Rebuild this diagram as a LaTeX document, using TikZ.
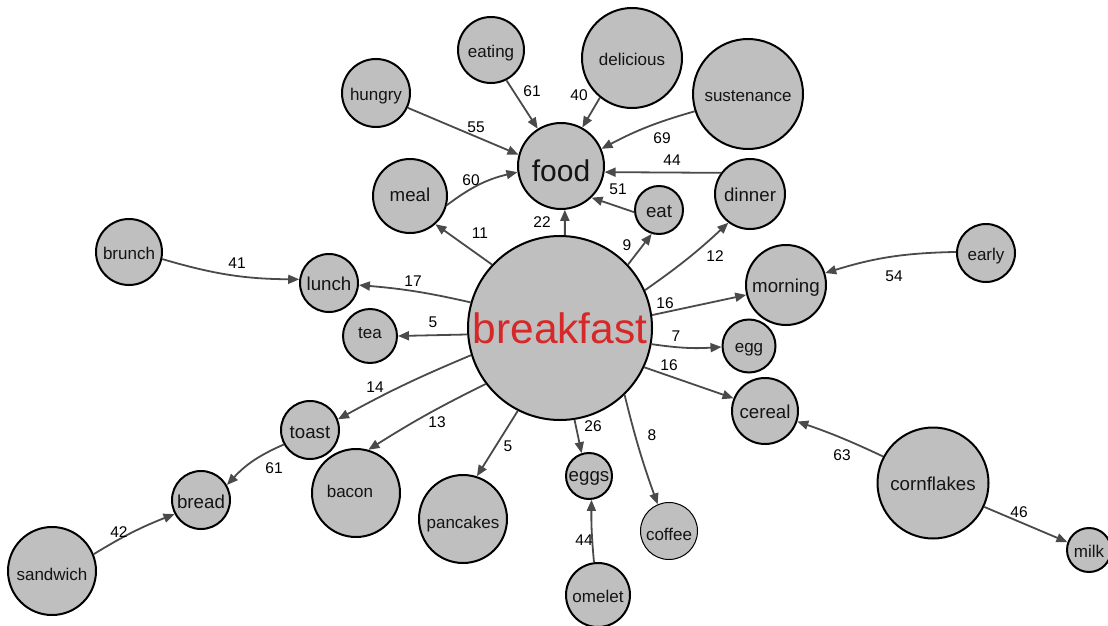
\documentclass[tikz,border=0pt]{standalone}
\usepackage{fontspec}
\setmainfont{Liberation Sans}
\usetikzlibrary{arrows.meta}
\definecolor{nodefill}{RGB}{191,191,191}
\definecolor{edgec}{RGB}{74,74,74}
\definecolor{txt}{RGB}{20,20,20}
\definecolor{hub}{RGB}{214,40,40}
\newcommand{\fs}[1]{\fontsize{#1}{#1}\selectfont}
\begin{document}
\begin{tikzpicture}[x=1pt,y=1pt,
  nd/.style={circle, draw=black, line width=2pt, fill=nodefill, inner sep=0pt, text=txt,
    font=\fs{17}, text height=15pt, text depth=0pt},
  ndb/.style={nd, font=\fs{18.7}, text height=15.5pt},
  lk/.style={draw=edgec, line width=1.8pt, -{Triangle[length=11pt,width=9pt]}},
  lbl/.style={font=\fs{15.5}, text=black, inner sep=0pt}]
\useasboundingbox (0,0) rectangle (1108,-626);

% hub and second hub
\node[nd, minimum size=184pt, font=\fs{42.5}, text=hub, text height=30pt] (breakfast) at (560,-328) {breakfast};
\node[nd, minimum size=86pt, font=\fs{30}, text height=31pt] (food) at (561,-166) {food};

% words around food
\node[nd, minimum size=66pt]  (eating)     at (491,-50)  {eating};
\node[nd, minimum size=100pt] (delicious)  at (632,-58)  {delicious};
\node[nd, minimum size=110pt] (sustenance) at (748,-94)  {sustenance};
\node[nd, minimum size=68pt]  (hungry)     at (376,-93)  {hungry};
\node[ndb, minimum size=74pt, text height=11pt] (meal) at (410,-196) {meal};
\node[ndb, minimum size=48pt, text height=14pt] (eat)  at (659,-210) {eat};
\node[ndb, minimum size=70pt] (dinner)     at (750,-194) {dinner};

% words around breakfast
\node[nd, minimum size=66pt]  (brunch)     at (129,-252) {brunch};
\node[ndb, minimum size=58pt, text height=14pt] (lunch) at (329,-283) {lunch};
\node[nd, minimum size=54pt, text height=5pt] (tea) at (370,-336) {tea};
\node[ndb, minimum size=80pt] (morning)    at (786,-285) {morning};
\node[nd, minimum size=58pt]  (early)      at (986,-253) {early};
\node[nd, minimum size=53pt, text height=12.5pt] (egg) at (749,-346) {egg};
\node[ndb, minimum size=66pt] (cereal)     at (765,-411) {cereal};
\node[ndb, minimum size=58pt, text height=17pt] (toast) at (310,-430) {toast};
\node[ndb, minimum size=58pt, text height=17pt] (bread) at (201,-500) {bread};
\node[nd, minimum size=88pt, text height=8pt] (bacon) at (356,-493) {\kern-12pt bacon};
\node[nd, minimum size=88pt, text height=18pt] (pancakes) at (463,-519) {pancakes};
\node[ndb, minimum size=46pt, text height=11pt] (eggs) at (589,-476) {eggs};
\node[nd, minimum size=57pt, line width=1pt, text height=18pt] (coffee) at (669,-531) {coffee};
\node[nd, minimum size=64pt]  (omelet)     at (598,-595) {omelet};
\node[ndb, minimum size=111pt] (cornflakes) at (933,-483) {cornflakes};
\node[nd, minimum size=44pt]  (milk)       at (1089,-550) {milk};
\node[nd, minimum size=88pt, text height=18pt] (sandwich) at (52,-571) {sandwich};

% links into food
\draw[lk] (hungry.-25) -- (food.165);
\draw[lk] (eating.-63) -- (food.122);
\draw[lk] (delicious.-129) -- (food.61);
\draw[lk] (sustenance.198) to[bend right=6] (food.23);
\draw[lk] (dinner.144) -- (food.-8);
\draw[lk] (meal.-14) to[bend left=12] (food.188);
\draw[lk] (eat.185) -- (food.-46);
\draw[lk] (breakfast.87) -- (food.-85);

% links out of breakfast
\draw[lk] (breakfast.137) -- (meal.-48);
\draw[lk] (breakfast.43) -- (eat.-107);
\draw[lk] (breakfast.24) to[bend right=4] (dinner.-127);
\draw[lk] (breakfast.164) to[bend right=4] (lunch.-4);
\draw[lk] (breakfast.184) -- (tea.0);
\draw[lk] (breakfast.8) -- (morning.194);
\draw[lk] (breakfast.-10) to[bend right=6] (egg.182);
\draw[lk] (breakfast.-25) -- (cereal.158);
\draw[lk] (breakfast.197) to[bend right=3] (toast.21);
\draw[lk] (breakfast.217) to[bend right=3] (bacon.74);
\draw[lk] (breakfast.243) -- (pancakes.72);
\draw[lk] (breakfast.-81) -- (eggs.108);
\draw[lk] (breakfast.-46) to[bend right=3] (coffee.113);

% other links
\draw[lk] (brunch.-12) to[bend right=8] (lunch.173);
\draw[lk] (early.178) to[bend right=8] (morning.17);
\draw[lk] (cornflakes.152) to[bend right=3] (cereal.-18);
\draw[lk] (cornflakes.-25) -- (milk.160);
\draw[lk] (omelet.97) to[bend left=3] (eggs.-84);
\draw[lk] (toast.209) to[bend right=12] (bread.30);
\draw[lk] (sandwich.22) to[bend left=5] (bread.208);

% link weights
\node[lbl] (w55) at (476,-127) {55};
\node[lbl] (w61a) at (532,-91) {61};
\node[lbl] (w40) at (579,-95) {40};
\node[lbl] (w69) at (662,-138) {69};
\node[lbl] (w44a) at (672,-160) {44};
\node[lbl] (w60) at (471,-180) {60};
\node[lbl] (w51) at (618,-189) {51};
\node[lbl] (w22) at (542,-222) {22};
\node[lbl] (w11) at (480,-233) {11};
\node[lbl] (w9) at (627,-245) {9};
\node[lbl] (w12) at (715,-256) {12};
\node[lbl] (w17) at (413,-281) {17};
\node[lbl] (w41) at (237,-263) {41};
\node[lbl] (w5a) at (433,-322) {5};
\node[lbl] (w16a) at (665,-303) {16};
\node[lbl] (w54) at (894,-276) {54};
\node[lbl] (w7) at (676,-336) {7};
\node[lbl] (w16b) at (669,-365) {16};
\node[lbl] (w63) at (842,-455) {63};
\node[lbl] (w46) at (1019,-512) {46};
\node[lbl] (w14) at (375,-387) {14};
\node[lbl] (w13) at (437,-422) {13};
\node[lbl] (w5b) at (508,-446) {5};
\node[lbl] (w26) at (593,-426) {26};
\node[lbl] (w8) at (652,-435) {8};
\node[lbl] (w44b) at (584,-540) {44};
\node[lbl] (w61b) at (274,-468) {61};
\node[lbl] (w42) at (119,-532) {42};
\end{tikzpicture}
\end{document}
